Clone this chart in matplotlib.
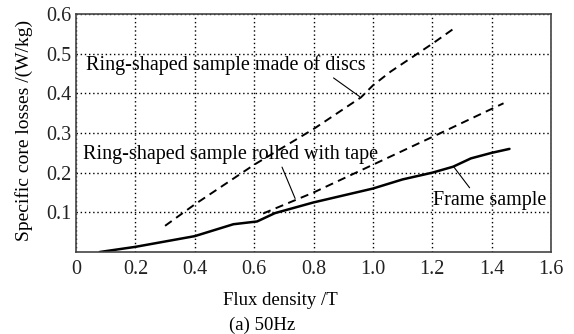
import matplotlib.pyplot as plt

plt.rcParams['font.family'] = ['Liberation Serif', 'DejaVu Serif']

# Frame sample (solid)
frame_b = [0.08, 0.2, 0.4, 0.53, 0.61, 0.67, 0.8, 1.0, 1.1, 1.2, 1.27, 1.33, 1.4, 1.46]
frame_p = [0.0, 0.013, 0.04, 0.07, 0.077, 0.098, 0.125, 0.16, 0.183, 0.2, 0.215, 0.236, 0.25, 0.26]

# Ring-shaped sample made of discs (dashed)
discs_b = [0.3, 0.4, 0.6, 0.8, 0.96, 1.0, 1.06, 1.2, 1.27]
discs_p = [0.066, 0.12, 0.22, 0.31, 0.39, 0.42, 0.455, 0.525, 0.562]

# Ring-shaped sample rolled with tape (dashed)
tape_b = [0.63, 0.8, 1.0, 1.2, 1.44]
tape_p = [0.097, 0.15, 0.22, 0.29, 0.375]

xticks = [0, 0.2, 0.4, 0.6, 0.8, 1.0, 1.2, 1.4, 1.6]
xtick_labels = ['0', '0.2', '0.4', '0.6', '0.8', '1.0', '1.2', '1.4', '1.6']
yticks = [0.1, 0.2, 0.3, 0.4, 0.5, 0.6]
ytick_labels = ['0.1', '0.2', '0.3', '0.4', '0.5', '0.6']

fig = plt.figure(figsize=(5.74, 3.34), dpi=100)
ax = fig.add_axes([0.1324, 0.2455, 0.8276, 0.7125])

ax.plot(frame_b, frame_p, color='black', lw=1.8, solid_capstyle='round')
ax.plot(discs_b, discs_p, color='black', lw=1.4, dashes=(4.2, 2.8))
ax.plot(tape_b, tape_p, color='black', lw=1.4, dashes=(4.2, 2.8))

ax.set_xlim(0, 1.6)
ax.set_ylim(0, 0.6)
ax.set_xticks(xticks)
ax.set_xticklabels(xtick_labels)
ax.set_yticks(yticks)
ax.set_yticklabels(ytick_labels)
ax.tick_params(length=0, labelsize=14.5, colors='#222222')
ax.tick_params(axis='x', pad=6)
ax.tick_params(axis='y', pad=3)
ax.grid(True, color='black', linestyle=(0, (1, 2)), lw=1.0)
for s in ax.spines.values():
    s.set_color('#444444')
    s.set_linewidth(1.2)

fs = 14.5
ax.annotate('Ring-shaped sample made of discs', xy=(0.955, 0.392), xytext=(0.035, 0.471),
            fontsize=fs, va='center', ha='left',
            arrowprops=dict(arrowstyle='-', color='black', lw=0.8, shrinkA=0, shrinkB=0,
                            relpos=(0.87, 0.0)))
ax.annotate('Ring-shaped sample rolled with tape', xy=(0.738, 0.135), xytext=(0.024, 0.245),
            fontsize=fs, va='center', ha='left',
            arrowprops=dict(arrowstyle='-', color='black', lw=0.8, shrinkA=0, shrinkB=0,
                            relpos=(0.67, 0.0)))
ax.annotate('Frame sample', xy=(1.272, 0.215), xytext=(1.203, 0.131),
            fontsize=fs, va='center', ha='left',
            arrowprops=dict(arrowstyle='-', color='black', lw=0.8, shrinkA=0, shrinkB=0,
                            relpos=(0.34, 1.0)))

fig.text(0.042, 0.61, 'Specific core losses /(W/kg)', rotation=90, ha='center', va='center',
         fontsize=14)
fig.text(0.488, 0.1, 'Flux density /T', ha='center', va='center', fontsize=13.5)
fig.text(0.457, 0.027, '(a) 50Hz', ha='center', va='center', fontsize=13.5)

fig.savefig('out.png', dpi=100)
